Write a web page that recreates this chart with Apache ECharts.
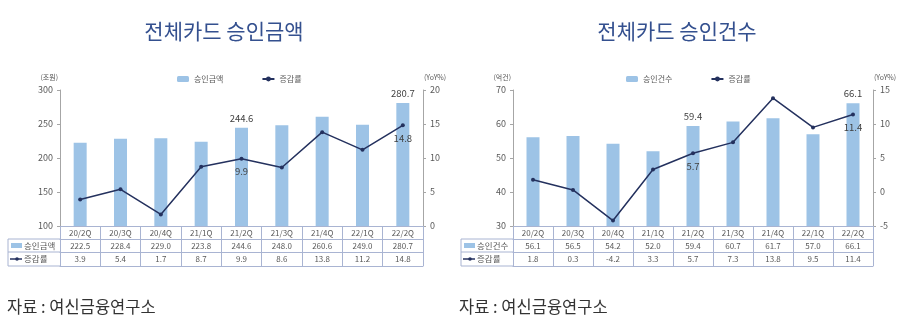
<!DOCTYPE html>
<html><head><meta charset="utf-8">
<script src="https://cdn.jsdelivr.net/npm/echarts@6/dist/echarts.min.js"></script>
<style>html,body{margin:0;padding:0;background:#fff}#c{width:907px;height:322px}</style>
</head><body><div id="c"></div>
<script>
const categories = ['20/2Q','20/3Q','20/4Q','21/1Q','21/2Q','21/3Q','21/4Q','22/1Q','22/2Q'];
const amount = [222.5,228.4,229.0,223.8,244.6,248.0,260.6,249.0,280.7];
const amountYoY = [3.9,5.4,1.7,8.7,9.9,8.6,13.8,11.2,14.8];
const count = [56.1,56.5,54.2,52.0,59.4,60.7,61.7,57.0,66.1];
const countYoY = [1.8,0.3,-4.2,3.3,5.7,7.3,13.8,9.5,11.4];
const labelIdx = [4, 8];
const titles = ['전체카드 승인금액','전체카드 승인건수'];
const barNames = ['승인금액','승인건수'];
const lineName = '증감률';
const units = ['(조원)','(억건)'];
const unitRight = '(YoY%)';
const source = '자료 : 여신금융연구소';

const FONT = "'Noto Sans CJK KR', 'Noto Sans', sans-serif";
const BAR = '#9dc3e6', LINE = '#24315e', TXT = '#595959', AX = '#a6a6a6', TB = '#a9b4d2';

const chart = echarts.init(document.getElementById('c'));

const grids = [
  {left: 60, width: 363, top: 90, height: 136},
  {left: 513, width: 360, top: 90, height: 136}
];
const leftAxes = [{min:100,max:300,interval:50},{min:30,max:70,interval:10}];
const rightAxes = [{min:0,max:20,interval:5},{min:-5,max:15,interval:5}];
const barData = [amount, count];
const lineData = [amountYoY, countYoY];

const xAxis = [], yAxis = [], series = [], graphic = [], legend = [];
grids.forEach((g, gi) => {
  xAxis.push({type:'category', gridIndex:gi, data:categories, position:'bottom',
    axisLine:{show:true, onZero:false, lineStyle:{color:TB, width:1}},
    axisTick:{show:true, length:40, interval:0, lineStyle:{color:TB}},
    axisLabel:{interval:0, fontSize:8, color:TXT, fontFamily:FONT, margin:3}});
  xAxis.push({type:'category', gridIndex:gi, data:categories, position:'bottom', offset:13,
    axisLine:{show:true, onZero:false, lineStyle:{color:TB}}, axisTick:{show:false},
    axisLabel:{interval:0, fontSize:8, color:TXT, fontFamily:FONT, margin:3,
      formatter:(v, i) => barData[gi][i].toFixed(1)}});
  xAxis.push({type:'category', gridIndex:gi, data:categories, position:'bottom', offset:26,
    axisLine:{show:true, onZero:false, lineStyle:{color:TB}}, axisTick:{show:false},
    axisLabel:{interval:0, fontSize:8, color:TXT, fontFamily:FONT, margin:3,
      formatter:(v, i) => lineData[gi][i].toFixed(1)}});
  xAxis.push({type:'category', gridIndex:gi, data:categories, position:'bottom', offset:40,
    axisLine:{show:true, onZero:false, lineStyle:{color:TB}}, axisTick:{show:false}, axisLabel:{show:false}});

  yAxis.push(Object.assign({type:'value', gridIndex:gi, position:'left',
    axisLine:{show:true, lineStyle:{color:AX}}, axisTick:{show:true, length:3, lineStyle:{color:AX}},
    splitLine:{show:false},
    axisLabel:{fontSize:9, color:TXT, fontFamily:FONT, margin:7}}, leftAxes[gi]));
  yAxis.push(Object.assign({type:'value', gridIndex:gi, position:'right',
    axisLine:{show:true, lineStyle:{color:AX}}, axisTick:{show:true, length:3, lineStyle:{color:AX}},
    splitLine:{show:false},
    axisLabel:{fontSize:9, color:TXT, fontFamily:FONT, margin:7}}, rightAxes[gi]));

  series.push({type:'bar', name:barNames[gi], xAxisIndex:gi*4, yAxisIndex:gi*2,
    barWidth:13, itemStyle:{color:BAR},
    data: barData[gi].map((v, i) => labelIdx.includes(i)
      ? {value:v, label:{show:true, position:'top', distance:5, fontSize:9.5, color:'#404040', fontFamily:FONT, formatter:(p)=>p.value.toFixed(1)}}
      : v)});
  series.push({type:'line', name:lineName, xAxisIndex:gi*4, yAxisIndex:gi*2+1,
    symbol:'circle', symbolSize:4, lineStyle:{color:LINE, width:1.5}, itemStyle:{color:LINE},
    z:5,
    data: lineData[gi].map((v, i) => labelIdx.includes(i)
      ? {value:v, label:{show:true, position:'bottom', distance:6, fontSize:9.5, color:'#404040', fontFamily:FONT, formatter:(p)=>p.value.toFixed(1)}}
      : v)});

  legend.push({data:[barNames[gi], lineName], top:70, left: gi===0 ? 172 : 621,
    itemWidth:12, itemHeight:6, itemGap:38,
    textStyle:{fontSize:8, color:TXT, fontFamily:FONT}});

  graphic.push({type:'text', x: gi===0 ? 224 : 677, y:31,
    style:{text:titles[gi], font:'21px ' + FONT, fill:'#34508f', align:'center', verticalAlign:'middle', textAlign:'center', textVerticalAlign:'middle'}});
  graphic.push({type:'text', x: g.left - 2, y:77,
    style:{text:units[gi], font:'7px ' + FONT, fill:TXT, align:'right', verticalAlign:'middle', textAlign:'right', textVerticalAlign:'middle'}});
  graphic.push({type:'text', x: g.left + g.width + 1, y:77,
    style:{text:unitRight, font:'7px ' + FONT, fill:TXT, align:'left', verticalAlign:'middle', textAlign:'left', textVerticalAlign:'middle'}});
  graphic.push({type:'text', x: gi===0 ? 7 : 459, y:307,
    style:{text:source, font:'16.5px ' + FONT, fill:'#333', align:'left', verticalAlign:'middle', textAlign:'left', textVerticalAlign:'middle'}});

  const hx0 = gi===0 ? 8 : 461, hx1 = g.left;
  const yTop = g.top + g.height;
  [13, 26, 40].forEach(o => graphic.push({type:'line', shape:{x1:hx0, y1:yTop+o, x2:hx1, y2:yTop+o}, style:{stroke:TB, lineWidth:1}}));
  graphic.push({type:'line', shape:{x1:hx0, y1:yTop+13, x2:hx0, y2:yTop+40}, style:{stroke:TB, lineWidth:1}});
  graphic.push({type:'rect', shape:{x:hx0+3, y:yTop+17, width:11, height:5}, style:{fill:BAR}});
  graphic.push({type:'text', x:hx0+16, y:yTop+19.5,
    style:{text:barNames[gi], font:'8.5px ' + FONT, fill:TXT, align:'left', verticalAlign:'middle', textAlign:'left', textVerticalAlign:'middle'}});
  graphic.push({type:'line', shape:{x1:hx0+2, y1:yTop+33, x2:hx0+14, y2:yTop+33}, style:{stroke:LINE, lineWidth:1.5}});
  graphic.push({type:'circle', shape:{cx:hx0+9, cy:yTop+33, r:1.8}, style:{fill:LINE}});
  graphic.push({type:'text', x:hx0+16, y:yTop+33,
    style:{text:lineName, font:'8.5px ' + FONT, fill:TXT, align:'left', verticalAlign:'middle', textAlign:'left', textVerticalAlign:'middle'}});
});

chart.setOption({
  animation:false,
  textStyle:{fontFamily:FONT},
  grid: grids,
  xAxis, yAxis, series, legend, graphic
});
</script></body></html>
